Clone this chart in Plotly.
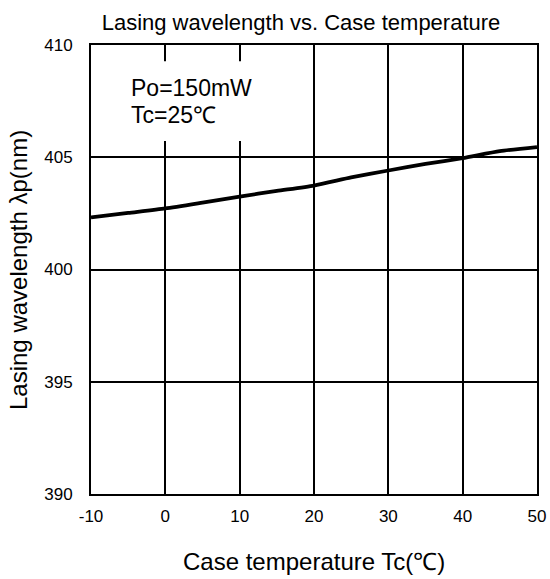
import plotly.graph_objects as go

# Data
case_temp_c = [-10, -5, 0, 5, 10, 15, 20, 25, 30, 35, 40, 45, 50]
wavelength_nm = [402.32, 402.52, 402.72, 402.98, 403.25, 403.50, 403.74, 404.10, 404.41, 404.70, 404.96, 405.27, 405.45]

x_ticks = [-10, 0, 10, 20, 30, 40, 50]
y_ticks = [390, 395, 400, 405, 410]

title_text = "Lasing wavelength vs. Case temperature"
x_title = "Case temperature Tc(\u2103)"
y_title = "Lasing wavelength \u03bbp(nm)"
condition_lines = ["Po=150mW", "Tc=25\u2103"]

FONT = "Liberation Sans, Arial, sans-serif"

W, H = 550, 579
PL, PR, PT, PB = 91, 537, 45, 494  # plot area in window pixels


def px_x(p):
    return (p - PL) / (PR - PL)


def px_y(p):
    return (PB - p) / (PB - PT)


fig = go.Figure()
fig.add_trace(go.Scatter(
    x=case_temp_c, y=wavelength_nm, mode="lines",
    line=dict(color="black", width=3.8, shape="spline", smoothing=0.6),
    showlegend=False, hoverinfo="skip",
))

# white box behind the condition text (interrupts grid lines)
fig.add_shape(type="rect", xref="x", yref="y", x0=-10, x1=17, y0=405.72, y1=409.28,
              fillcolor="white", line=dict(width=0), layer="between")

fig.add_annotation(xref="paper", yref="paper", x=px_x(129), y=px_y(88),
                   xanchor="left", yanchor="middle", showarrow=False,
                   text=condition_lines[0], font=dict(family=FONT, size=23, color="black"))
fig.add_annotation(xref="paper", yref="paper", x=px_x(129), y=px_y(115),
                   xanchor="left", yanchor="middle", showarrow=False,
                   text=condition_lines[1], font=dict(family=FONT, size=23, color="black"))

# y-axis title
fig.add_annotation(xref="paper", yref="paper", x=px_x(18), y=px_y(270),
                   xanchor="center", yanchor="middle", showarrow=False, textangle=-90,
                   text=y_title, font=dict(family=FONT, size=24, color="black"))

# x-axis title
fig.add_annotation(xref="paper", yref="paper", x=px_x(314), y=px_y(561),
                   xanchor="center", yanchor="middle", showarrow=False,
                   text=x_title, font=dict(family=FONT, size=24, color="black"))

fig.update_layout(
    width=W, height=H,
    margin=dict(l=PL, r=W - PR, t=PT, b=H - PB, autoexpand=False),
    paper_bgcolor="white", plot_bgcolor="white",
    font=dict(family=FONT, color="black"),
    title=dict(text=title_text, xref="container", yref="container",
               x=301 / W, y=1 - 22 / H, xanchor="center", yanchor="middle",
               font=dict(family=FONT, size=22, color="black")),
    xaxis=dict(
        range=[-10, 50], tickvals=x_ticks, ticktext=[str(v) for v in x_ticks],
        showgrid=True, gridcolor="black", gridwidth=2,
        showline=True, linecolor="black", linewidth=2, mirror=True,
        ticks="", tickfont=dict(family=FONT, size=17, color="black"),
        ticklabelstandoff=6, zeroline=False, automargin=False,
    ),
    yaxis=dict(
        range=[390, 410], tickvals=y_ticks, ticktext=[str(v) for v in y_ticks],
        showgrid=True, gridcolor="black", gridwidth=2,
        showline=True, linecolor="black", linewidth=2, mirror=True,
        ticks="", tickfont=dict(family=FONT, size=17, color="black"),
        ticklabelstandoff=13, zeroline=False, automargin=False,
    ),
)

# remove the page's default body margin so the figure fills the window exactly
fig.write_html(
    "out.html",
    config={"displayModeBar": False},
    post_script="document.body.style.margin='0';document.body.style.overflow='hidden';",
)
